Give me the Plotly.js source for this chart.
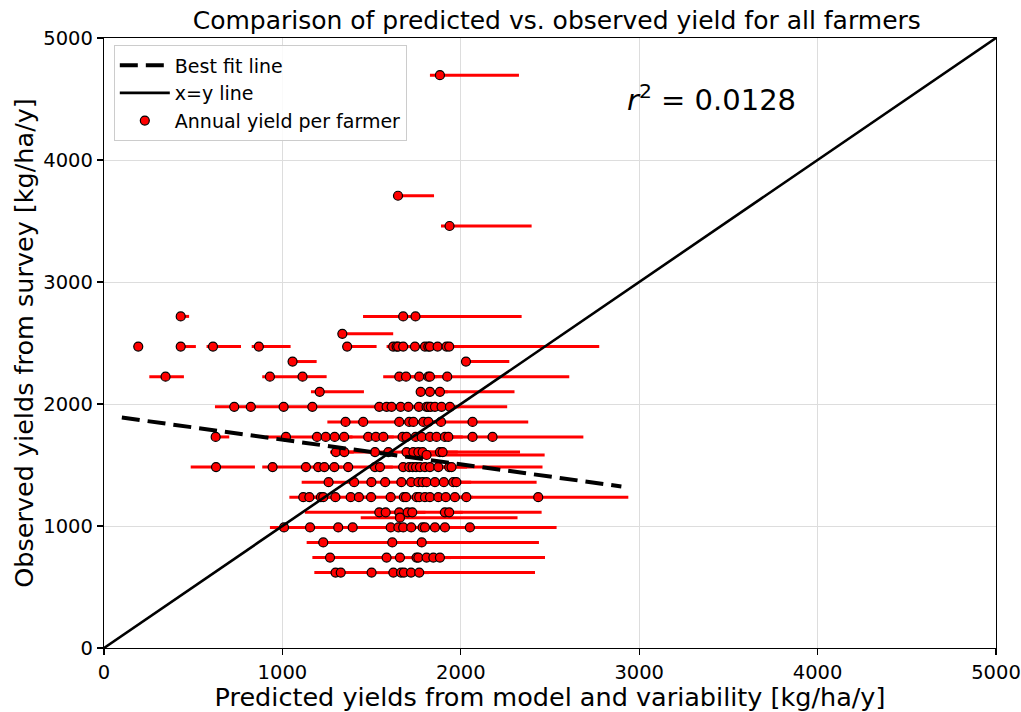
<!DOCTYPE html>
<html>
<head>
<meta charset="utf-8">
<script src="https://cdn.plot.ly/plotly-3.0.1.min.js"></script>
<style>html,body{margin:0;padding:0;background:#fff;}#chart{width:1021px;height:712px;}</style>
</head>
<body>
<div id="chart"></div>
<script>
// Predicted yield per farmer [kg/ha/y] (x), one line per observed-yield row
const predicted = [
  1883,
  1648,
  1937,
  430, 1677, 1746,
  1336,
  192, 430, 611, 868, 1363, 1621, 1640, 1649, 1677, 1743, 1799, 1818, 1827, 1870, 1920, 1935,
  1057, 2029,
  345, 930, 1113, 1655, 1693, 1767, 1818, 1827, 1924,
  1209, 1775, 1827, 1883,
  730, 823, 1007, 1168, 1543, 1584, 1612, 1663, 1706, 1765, 1808, 1818, 1832, 1855, 1892, 1939,
  1354, 1453, 1655, 1711, 1734, 1790, 1818, 1889, 2066,
  626, 1020, 1194, 1243, 1293, 1346, 1481, 1524, 1566, 1674, 1696, 1747, 1781, 1827, 1864, 1911, 1930, 2066, 2178,
  1300, 1347, 1519, 1594, 1696, 1734, 1762, 1786, 1883, 1898,
  1808,
  628, 945, 1132, 1201, 1235, 1291, 1369, 1519, 1547, 1677, 1711, 1730, 1749, 1771, 1799, 1827, 1874, 1935, 1948,
  1259, 1402, 1499, 1576, 1667, 1722, 1762, 1786, 1808, 1855, 1905, 1958, 1975,
  1117, 1151, 1216, 1229, 1297, 1383, 1429, 1497, 1607, 1681, 1693, 1753, 1767, 1799, 1827, 1874, 1916, 1967, 2031, 2434,
  1543, 1579, 1655, 1702, 1728, 1911, 1935,
  1659,
  1009, 1155, 1313, 1394, 1607, 1650, 1677, 1722, 1786, 1799, 1855, 1911, 2051,
  1229, 1616, 1781,
  1267, 1584, 1659, 1752, 1762, 1808, 1846, 1883,
  1298, 1327, 1500, 1622, 1665, 1681, 1721, 1767
];

// Observed yield from survey [kg/ha/y] (y)
const observed = [
  4695,
  3707,
  3459,
  2718, 2718, 2718,
  2575,
  2471, 2471, 2471, 2471, 2471, 2471, 2471, 2471, 2471, 2471, 2471, 2471, 2471, 2471, 2471, 2471,
  2348, 2348,
  2224, 2224, 2224, 2224, 2224, 2224, 2224, 2224, 2224,
  2100, 2100, 2100, 2100,
  1977, 1977, 1977, 1977, 1977, 1977, 1977, 1977, 1977, 1977, 1977, 1977, 1977, 1977, 1977, 1977,
  1853, 1853, 1853, 1853, 1853, 1853, 1853, 1853, 1853,
  1730, 1730, 1730, 1730, 1730, 1730, 1730, 1730, 1730, 1730, 1730, 1730, 1730, 1730, 1730, 1730, 1730, 1730, 1730,
  1606, 1606, 1606, 1606, 1606, 1606, 1606, 1606, 1606, 1606,
  1582,
  1483, 1483, 1483, 1483, 1483, 1483, 1483, 1483, 1483, 1483, 1483, 1483, 1483, 1483, 1483, 1483, 1483, 1483, 1483,
  1359, 1359, 1359, 1359, 1359, 1359, 1359, 1359, 1359, 1359, 1359, 1359, 1359,
  1236, 1236, 1236, 1236, 1236, 1236, 1236, 1236, 1236, 1236, 1236, 1236, 1236, 1236, 1236, 1236, 1236, 1236, 1236, 1236,
  1112, 1112, 1112, 1112, 1112, 1112, 1112,
  1068,
  988, 988, 988, 988, 988, 988, 988, 988, 988, 988, 988, 988, 988,
  865, 865, 865,
  741, 741, 741, 741, 741, 741, 741, 741,
  618, 618, 618, 618, 618, 618, 618, 618
];

// Variability: lower error on predicted yield
const errLow = [
  56,
  0,
  48,
  0, 225, 50,
  0,
  0, 0, 36, 40, 18, 37, 30, 30, 30, 30, 30, 30, 30, 30, 30, 30,
  0, 0,
  91, 43, 30, 90, 30, 30, 30, 30, 30,
  49, 23, 30, 30,
  108, 30, 30, 30, 30, 30, 30, 30, 30, 30, 30, 30, 30, 30, 30, 30,
  102, 30, 30, 30, 30, 30, 30, 30, 30,
  0, 114, 30, 30, 30, 30, 30, 30, 30, 30, 30, 30, 30, 30, 30, 30, 30, 30, 30,
  33, 30, 30, 30, 30, 30, 30, 30, 30, 30,
  0,
  142, 58, 30, 30, 30, 30, 30, 30, 30, 30, 30, 30, 30, 30, 30, 30, 30, 30, 30,
  151, 30, 30, 30, 30, 30, 30, 30, 30, 30, 30, 30, 30,
  78, 30, 30, 30, 30, 30, 30, 30, 30, 30, 30, 30, 30, 30, 30, 30, 30, 30, 30, 30,
  417, 30, 30, 30, 30, 30, 30,
  220,
  79, 30, 30, 30, 30, 30, 30, 30, 30, 30, 30, 30, 30,
  93, 30, 30,
  99, 30, 30, 30, 30, 30, 30, 30,
  119, 30, 30, 30, 30, 30, 30, 30
];

// Variability: upper error on predicted yield
const errHigh = [
  443,
  202,
  460,
  47, 100, 595,
  285,
  0, 85, 157, 178, 165, 100, 100, 100, 100, 100, 100, 100, 100, 100, 100, 841,
  135, 243,
  103, 183, 135, 100, 100, 100, 100, 100, 684,
  248, 100, 100, 418,
  120, 200, 180, 400, 100, 100, 100, 100, 100, 100, 100, 100, 100, 100, 100, 321,
  120, 220, 100, 100, 100, 100, 100, 200, 312,
  76, 190, 100, 100, 100, 150, 100, 100, 120, 100, 100, 100, 100, 100, 100, 100, 150, 130, 509,
  100, 180, 100, 110, 100, 100, 100, 110, 100, 434,
  662,
  218, 200, 100, 100, 100, 100, 160, 100, 140, 100, 100, 100, 100, 100, 100, 100, 100, 100, 510,
  160, 100, 100, 100, 100, 100, 100, 100, 100, 100, 100, 100, 450,
  100, 100, 100, 100, 100, 100, 100, 120, 100, 100, 100, 100, 100, 100, 100, 100, 100, 100, 420, 505,
  100, 100, 100, 100, 200, 100, 518,
  659,
  160, 170, 100, 230, 100, 100, 100, 100, 100, 100, 100, 150, 486,
  400, 180, 657,
  330, 100, 100, 100, 100, 100, 100, 589,
  100, 190, 130, 100, 100, 100, 100, 649
];

// Best fit line
const fitSlope = -0.2016;
const fitIntercept = 1909;
const fitRange = [100, 2900];
// x=y reference line range
const identityRange = [0, 5000];
const rSquared = 0.0128;

const FONT = 'DejaVu Sans, sans-serif';

const fitX = fitRange;
const fitY = fitRange.map(x => fitIntercept + fitSlope * x);

const traces = [
  {
    x: predicted, y: observed, type: 'scatter', mode: 'markers',
    name: 'Annual yield per farmer', legendrank: 3,
    marker: { color: 'red', size: 9, line: { color: 'black', width: 1.2 } },
    error_x: { type: 'data', symmetric: false, array: errHigh, arrayminus: errLow,
               color: 'red', thickness: 3, width: 0 },
    hoverinfo: 'x+y'
  },
  {
    x: fitX, y: fitY, type: 'scatter', mode: 'lines', name: 'Best fit line', legendrank: 1,
    line: { color: 'black', width: 4, dash: '18px,8px' }
  },
  {
    x: identityRange, y: identityRange, type: 'scatter', mode: 'lines', name: 'x=y line', legendrank: 2,
    line: { color: 'black', width: 2.6 }
  }
];

const axisBase = {
  range: [0, 5000], dtick: 1000, tick0: 0,
  showline: true, linecolor: 'black', linewidth: 1.2, mirror: true,
  ticks: 'outside', ticklen: 6, tickcolor: 'black', tickwidth: 1.2,
  showgrid: true, gridcolor: '#dddddd', gridwidth: 1,
  zeroline: false,
  tickfont: { family: FONT, size: 19.5, color: 'black' }
};

const layout = {
  width: 1021, height: 712,
  margin: { l: 104, r: 25, t: 38, b: 64 },
  paper_bgcolor: 'white', plot_bgcolor: 'white',
  font: { family: FONT, color: 'black' },
  title: { text: 'Comparison of predicted vs. observed yield for all farmers',
           font: { family: FONT, size: 25, color: 'black' },
           x: 0.5453, xanchor: 'center', y: 0.972, yanchor: 'middle' },
  xaxis: Object.assign({}, axisBase, {
    title: { text: 'Predicted yields from model and variability [kg/ha/y]',
             font: { family: FONT, size: 25.5, color: 'black' }, standoff: 0 }
  }),
  yaxis: Object.assign({}, axisBase, {
    title: { text: 'Observed yields from survey [kg/ha/y]',
             font: { family: FONT, size: 25.5, color: 'black' }, standoff: 2 }
  }),
  showlegend: true,
  legend: {
    x: 0.011, y: 0.988, xanchor: 'left', yanchor: 'top',
    bgcolor: 'rgba(255,255,255,0.85)', bordercolor: '#cccccc', borderwidth: 1,
    font: { family: FONT, size: 19, color: 'black' },
    traceorder: 'normal', itemwidth: 50, tracegroupgap: 0
  },
  annotations: [{
    x: 3408, y: 4508, xref: 'x', yref: 'y', showarrow: false,
    text: '<i>r</i><sup>2</sup> = ' + rSquared,
    font: { family: FONT, size: 29, color: 'black' },
    xanchor: 'center', yanchor: 'middle'
  }]
};

Plotly.newPlot('chart', traces, layout, { displayModeBar: false, staticPlot: true });
</script>
</body>
</html>
